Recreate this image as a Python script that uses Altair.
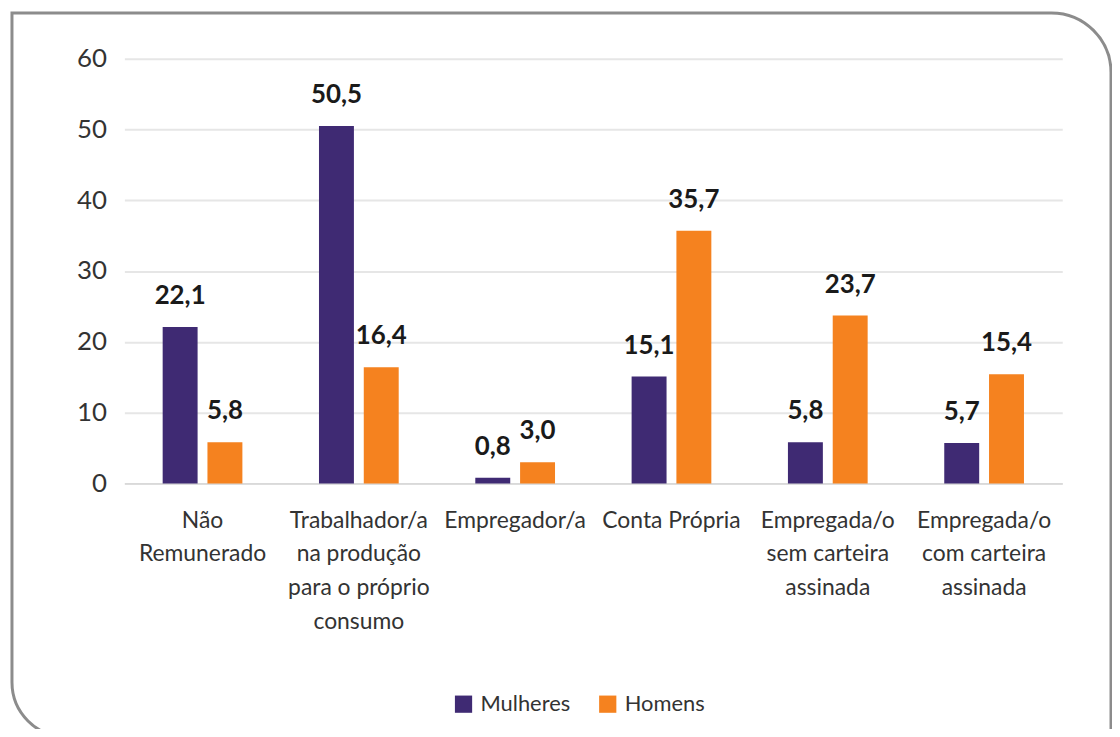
import altair as alt
import pandas as pd

categories = ["Não|Remunerado",
              "Trabalhador/a|na produção|para o próprio|consumo",
              "Empregador/a",
              "Conta Própria",
              "Empregada/o|sem carteira|assinada",
              "Empregada/o|com carteira|assinada"]
mulheres = [22.1, 50.5, 0.8, 15.1, 5.8, 5.7]
homens = [5.8, 16.4, 3.0, 35.7, 23.7, 15.4]
series = ["Mulheres", "Homens"]
colors = ["#3f2a73", "#f5821f"]

rows = []
for c, m, h in zip(categories, mulheres, homens):
    rows.append({"cat": c, "serie": "Mulheres", "v": m, "lab": f"{m:.1f}".replace(".", ",")})
    rows.append({"cat": c, "serie": "Homens", "v": h, "lab": f"{h:.1f}".replace(".", ",")})
df = pd.DataFrame(rows)

FONT = "Lato"

x = alt.X("cat:N", sort=categories, title=None,
          scale=alt.Scale(paddingInner=0.49, paddingOuter=0.245),
          axis=alt.Axis(labelExpr="split(datum.label, '|')", labelAngle=0,
                        labelFontSize=23, labelFont=FONT, labelColor="#333333",
                        labelPadding=26, labelLineHeight=34, ticks=False,
                        domainColor="#d9d9d9", domainWidth=2, labelBaseline="top"))
xo = alt.XOffset("serie:N", sort=series, scale=alt.Scale(paddingInner=0.22, paddingOuter=0))
y = alt.Y("v:Q", title=None,
          scale=alt.Scale(domain=[0, 60]),
          axis=alt.Axis(values=[0, 10, 20, 30, 40, 50, 60], labelFontSize=26, labelFont=FONT,
                        labelColor="#333333", labelPadding=18, ticks=False, domain=False,
                        gridColor="#e6e6e6", gridWidth=2))

bars = alt.Chart(df).mark_bar().encode(
    x=x, xOffset=xo, y=y,
    color=alt.Color("serie:N", sort=series,
                    scale=alt.Scale(domain=series, range=colors),
                    legend=alt.Legend(title=None, orient="none", direction="horizontal",
                                      legendX=330, legendY=638, labelFontSize=22,
                                      labelFont=FONT, labelColor="#333333",
                                      symbolType="square", symbolSize=300,
                                      symbolStrokeWidth=0, columnPadding=26, labelOffset=6))
)

labels = alt.Chart(df).mark_text(baseline="bottom", dy=-18, fontSize=26, fontWeight="bold",
                                 font=FONT, color="#1a1a1a").encode(
    x=alt.X("cat:N", sort=categories), xOffset=alt.XOffset("serie:N", sort=series), y="v:Q",
    text="lab:N")

frame = alt.Chart(pd.DataFrame({"k": [0]})).mark_rect(
    fill=None, stroke="#8c8c8c", strokeWidth=3,
    cornerRadiusTopRight=60, cornerRadiusBottomLeft=55).encode(
    x=alt.value(-113), x2=alt.value(992), y=alt.value(-46), y2=alt.value(682))

chart = alt.layer(frame, bars, labels).properties(
    width=943, height=427,
    autosize=alt.AutoSizeParams(type="none"),
    padding={"left": 117, "top": 49, "right": 50, "bottom": 245},
    background="white"
).configure_view(stroke=None)

chart.save("out.html", embed_options={"renderer": "svg", "actions": False})
